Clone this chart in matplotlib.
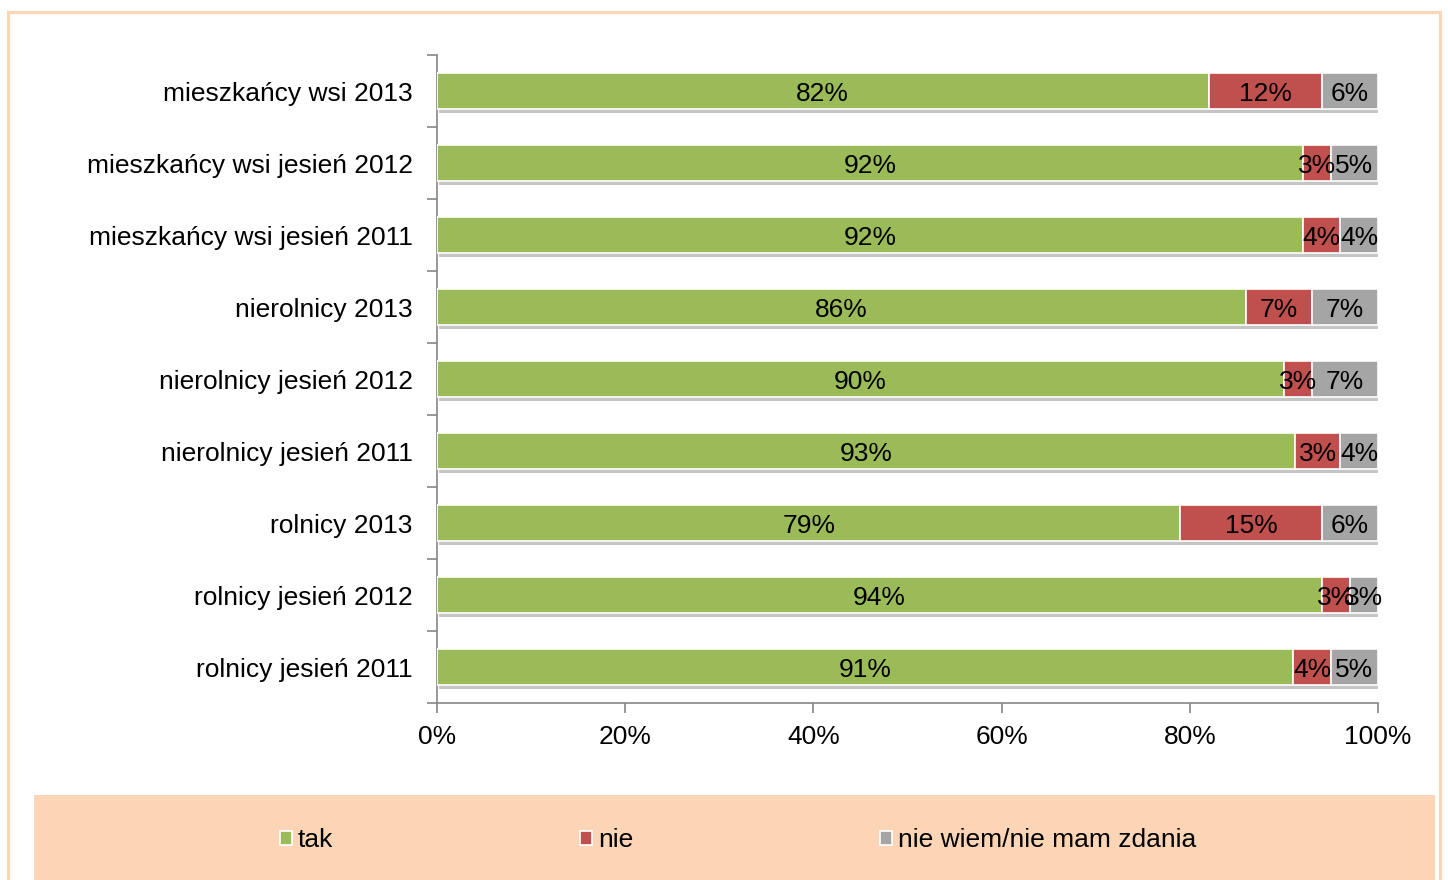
import matplotlib
matplotlib.use("Agg")
import matplotlib.pyplot as plt
from matplotlib.patches import Rectangle
import matplotlib.patheffects as pe
import numpy as np

plt.rcParams['font.family'] = ['Liberation Sans', 'DejaVu Sans']

categories = ["mieszkańcy wsi 2013", "mieszkańcy wsi jesień 2012", "mieszkańcy wsi jesień 2011",
              "nierolnicy 2013", "nierolnicy jesień 2012", "nierolnicy jesień 2011",
              "rolnicy 2013", "rolnicy jesień 2012", "rolnicy jesień 2011"]
series = ["tak", "nie", "nie wiem/nie mam zdania"]
# segment widths as drawn (percent)
tak = [82, 92, 92, 86, 90, 91.2, 79, 94, 91]
nie = [12, 3, 4, 7, 3, 4.8, 15, 3, 4]
nw = [6, 5, 4, 7, 7, 4, 6, 3, 5]
# data label texts as shown
tak_lbl = ["82%", "92%", "92%", "86%", "90%", "93%", "79%", "94%", "91%"]
nie_lbl = ["12%", "3%", "4%", "7%", "3%", "3%", "15%", "3%", "4%"]
nw_lbl = ["6%", "5%", "4%", "7%", "7%", "4%", "6%", "3%", "5%"]
xticks = [0, 20, 40, 60, 80, 100]
xticklabels = ["0%", "20%", "40%", "60%", "80%", "100%"]
colors = ["#9BBB59", "#C0504D", "#A5A5A5"]

W, H = 1448, 880
fig = plt.figure(figsize=(W / 100, H / 100), dpi=100)

# outer frame
fig.patches.append(Rectangle((8 / W, -0.05), (1440 - 8) / W, (H - 12) / H + 0.05,
                             transform=fig.transFigure, facecolor="none",
                             edgecolor="#FCD5B5", linewidth=2.2, zorder=0))
# legend background
fig.patches.append(Rectangle((34 / W, 0), (1435 - 34) / W, (H - 795) / H,
                             transform=fig.transFigure, facecolor="#FBD5B5",
                             edgecolor="none", zorder=0))

ax = fig.add_axes([437 / W, 1 - 703 / H, (1378 - 437) / W, (703 - 55) / H], zorder=2)
ax.set_facecolor("none")

y = np.arange(len(categories))
fs = 19
left = np.zeros(len(categories))
shadow = [pe.SimplePatchShadow(offset=(1.5, -3), shadow_rgbFace="#7f7f7f", alpha=0.45), pe.Normal()]
handles = []
for vals, lbls, col, name in zip([tak, nie, nw], [tak_lbl, nie_lbl, nw_lbl], colors, series):
    bars = ax.barh(y, vals, left=left, height=0.5, color=col, edgecolor="white",
                   linewidth=1.2, label=name, zorder=3)
    for b in bars:
        b.set_path_effects(shadow)
    for yi, l, v, t in zip(y, left, vals, lbls):
        ax.text(l + v / 2, yi, t, ha="center", va="center_baseline", fontsize=fs,
                color="black", zorder=5)
    handles.append(bars)
    left = left + np.array(vals)

ax.set_xlim(0, 100)
ax.set_ylim(len(categories) - 0.5, -0.5)
ax.set_xticks(xticks)
ax.set_xticklabels(xticklabels, fontsize=fs)
ax.set_yticks(y)
ax.set_yticklabels(categories, fontsize=fs)
ax.tick_params(axis="y", which="major", length=0, pad=17.5)
ax.set_yticks(np.arange(len(categories) + 1) - 0.5, minor=True)
ax.tick_params(axis="y", which="minor", length=7, color="#868686", width=1.2, direction="out")
ax.tick_params(axis="x", length=7, color="#868686", width=1.2, direction="out", pad=9)

for s in ["top", "right"]:
    ax.spines[s].set_visible(False)
for s in ["left", "bottom"]:
    ax.spines[s].set_color("#868686")
    ax.spines[s].set_linewidth(1.2)

leg = fig.legend(handles=handles, labels=series, loc="center left",
                 bbox_to_anchor=(280 / W, 1 - 840 / H), ncol=3, frameon=False,
                 fontsize=fs, handlelength=0.45, handleheight=0.45, handletextpad=0.22,
                 columnspacing=9.36, borderpad=0, borderaxespad=0)
leg.set_zorder(3)
for h in leg.legend_handles:
    h.set_path_effects([])
    h.set_edgecolor("white")

fig.savefig("out.png", dpi=100)
